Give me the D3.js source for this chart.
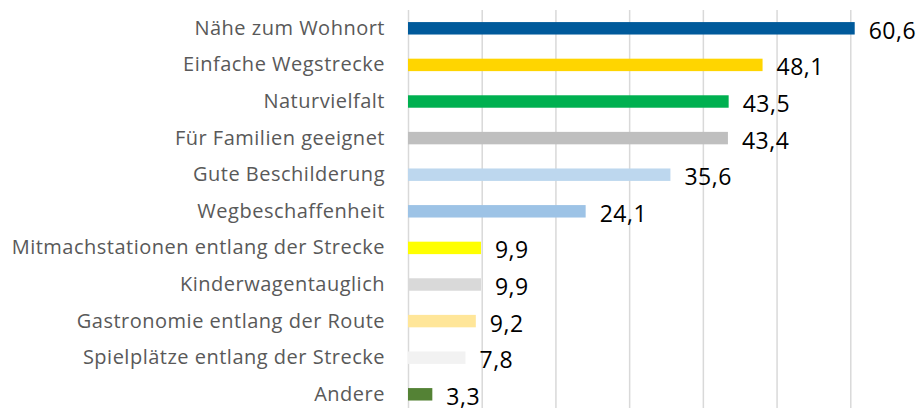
<!DOCTYPE html>
<html>
<head>
<meta charset="utf-8">
<script src="https://cdn.jsdelivr.net/npm/d3@7/dist/d3.min.js"></script>
<style>
    body { margin: 0; background: #fff; }
    text { font-family: "Open Sans", sans-serif; }
</style>
</head>
<body>
<svg id="svg1" width="922" height="408"></svg>
<script>
var categories = ["Nähe zum Wohnort", "Einfache Wegstrecke", "Naturvielfalt", "Für Familien geeignet",
    "Gute Beschilderung", "Wegbeschaffenheit", "Mitmachstationen entlang der Strecke",
    "Kinderwagentauglich", "Gastronomie entlang der Route", "Spielplätze entlang der Strecke", "Andere"];
var values = [60.6, 48.1, 43.5, 43.4, 35.6, 24.1, 9.9, 9.9, 9.2, 7.8, 3.3];
var colors = ["#005A9B", "#FFD500", "#00B050", "#BFBFBF", "#BDD7EE", "#9DC3E6",
    "#FFFF00", "#D9D9D9", "#FFE699", "#F2F2F2", "#548235"];
var xTicks = [0, 10, 20, 30, 40, 50, 60, 70];

var svg = d3.select("#svg1"),
    margin = {
        top: 10,
        right: 0,
        bottom: 0,
        left: 408
    },
    width = 516,
    height = 402.6,
    g = svg.append("g").attr("transform", "translate(" + margin.left + "," + margin.top + ")");

var data = categories.map(function (c, i) {
    return { cat: c, val: values[i], color: colors[i] };
});

var x = d3.scaleLinear()
    .domain([0, 70])
    .range([0, width]);

var y = d3.scaleBand()
    .domain(categories)
    .range([0, height])
    .paddingInner(0.66)
    .paddingOuter(0.33);

// vertical gridlines
var grid = g.append("g")
    .call(d3.axisTop(x).tickValues(xTicks).tickSize(-height).tickFormat(""));
grid.select(".domain").remove();
grid.selectAll("line")
    .attr("stroke", "#D9D9D9")
    .attr("stroke-width", 1.5);

g.selectAll(".bar")
    .data(data)
    .enter().append("rect")
    .attr("class", "bar")
    .attr("x", x(0))
    .attr("y", function (d) { return y(d.cat); })
    .attr("width", function (d) { return x(d.val) - x(0); })
    .attr("height", y.bandwidth())
    .attr("fill", function (d) { return d.color; });

// category labels
g.selectAll(".cat")
    .data(data)
    .enter().append("text")
    .attr("class", "cat")
    .attr("x", -23)
    .attr("y", function (d) { return y(d.cat) + y.bandwidth() / 2 + 6.5; })
    .attr("text-anchor", "end")
    .style("font-size", "20px")
    .style("letter-spacing", "0.5px")
    .attr("fill", "#595959")
    .text(function (d) { return d.cat; });

// value labels
g.selectAll(".val")
    .data(data)
    .enter().append("text")
    .attr("class", "val")
    .attr("x", function (d) { return x(d.val) + 14; })
    .attr("y", function (d) { return y(d.cat) + y.bandwidth() / 2 + 10.5; })
    .style("font-size", "23px")
    .style("letter-spacing", "0.5px")
    .attr("fill", "#000")
    .text(function (d) { return d3.format(".1f")(d.val).replace(".", ","); });
</script>
</body>
</html>
